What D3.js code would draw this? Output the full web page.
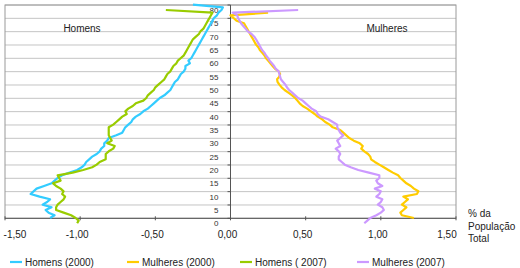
<!DOCTYPE html>
<html><head><meta charset="utf-8">
<script src="https://cdn.jsdelivr.net/npm/d3@7"></script>
<style>
body{margin:0;background:#fff;}
text{font-family:Arial,"Liberation Sans",sans-serif;}
</style></head>
<body><svg id="c" width="520" height="268"></svg>
<script>
// ---- data ----
const xTicks = [-1.5,-1.0,-0.5,0,0.5,1.0,1.5];
const xTickLabels = ["-1,50","-1,00","-0,50","0,00","0,50","1,00","1,50"];
const yTicks = [0,5,10,15,20,25,30,35,40,45,50,55,60,65,70,75,80];
const seriesNames = ["Homens (2000)","Mulheres (2000)","Homens ( 2007)","Mulheres (2007)"];
const seriesColors = ["#33CCFF","#FFCC00","#99CC00","#CC99FF"];
const sideLabels = ["Homens","Mulheres"];
const axisTitle = ["% da","População","Total"];

// ages as drawn
const startAge2000 = 2, startAge2007 = 0;
const homens2000 = [-1.20,-1.17,-1.21,-1.23,-1.19,-1.25,-1.22,-1.20,-1.27,-1.33,
 -1.31,-1.29,-1.24,-1.19,-1.17,-1.15,-1.12,-1.07,-1.02,-0.99,
 -0.97,-0.96,-0.94,-0.92,-0.89,-0.87,-0.86,-0.84,-0.84,-0.82,
 -0.81,-0.76,-0.72,-0.71,-0.70,-0.68,-0.66,-0.65,-0.63,-0.60,
 -0.58,-0.55,-0.53,-0.51,-0.49,-0.47,-0.44,-0.42,-0.40,-0.39,
 -0.38,-0.37,-0.35,-0.34,-0.33,-0.31,-0.30,-0.30,-0.27,-0.28,
 -0.26,-0.25,-0.24,-0.23,-0.22,-0.21,-0.20,-0.19,-0.18,-0.17,
 -0.16,-0.15,-0.14,-0.13,-0.12,-0.11,-0.09,-0.08,-0.06,-0.05,-0.25];
const mulheres2000 = [1.22,1.14,1.13,1.15,1.17,1.14,1.16,1.18,1.15,1.24,
 1.25,1.22,1.20,1.17,1.15,1.13,1.115,1.08,1.05,1.02,
 0.99,0.96,0.935,0.93,0.915,0.89,0.87,0.88,0.86,0.82,
 0.79,0.77,0.75,0.73,0.68,0.66,0.63,0.61,0.58,0.56,
 0.535,0.51,0.48,0.46,0.445,0.43,0.41,0.385,0.36,0.34,
 0.325,0.313,0.31,0.325,0.33,0.32,0.295,0.28,0.265,0.25,
 0.235,0.225,0.21,0.195,0.185,0.17,0.16,0.15,0.14,0.13,
 0.12,0.11,0.10,0.09,0.04,0.02,0.0,0.25];
const homens2007 = [-1.02,-1.01,-1.03,-1.06,-1.11,-1.16,-1.16,-1.15,-1.13,-1.11,
 -1.10,-1.12,-1.11,-1.13,-1.16,-1.18,-1.13,-1.14,-1.15,-1.05,
 -0.98,-0.92,-0.89,-0.87,-0.83,-0.83,-0.83,-0.81,-0.78,-0.77,
 -0.82,-0.79,-0.80,-0.81,-0.81,-0.81,-0.81,-0.78,-0.76,-0.74,
 -0.72,-0.69,-0.70,-0.68,-0.65,-0.63,-0.58,-0.56,-0.55,-0.53,
 -0.51,-0.50,-0.48,-0.46,-0.44,-0.43,-0.42,-0.40,-0.39,-0.38,
 -0.36,-0.35,-0.33,-0.31,-0.30,-0.29,-0.28,-0.27,-0.26,-0.25,
 -0.23,-0.21,-0.20,-0.18,-0.17,-0.16,-0.15,-0.14,-0.13,-0.12,-0.43];
const mulheres2007 = [0.89,0.91,0.93,0.97,1.00,1.02,1.01,0.98,1.00,1.01,
 0.97,0.99,1.00,0.96,1.01,0.98,0.97,0.99,0.99,0.92,
 0.85,0.80,0.76,0.74,0.72,0.72,0.73,0.72,0.70,0.73,
 0.72,0.71,0.73,0.75,0.73,0.72,0.71,0.71,0.68,0.65,
 0.60,0.58,0.57,0.54,0.52,0.50,0.48,0.45,0.43,0.41,
 0.39,0.375,0.365,0.35,0.335,0.33,0.325,0.32,0.30,0.29,
 0.275,0.26,0.25,0.235,0.225,0.21,0.20,0.19,0.18,0.17,
 0.158,0.14,0.115,0.10,0.085,0.07,0.06,0.05,0.045,0.015,0.45];

const seriesData = [homens2000, mulheres2000, homens2007, mulheres2007];
const seriesStart = [startAge2000, startAge2000, startAge2007, startAge2007];

// ---- layout ----
const svg = d3.select("#c");
const x = d3.scaleLinear().domain([-1.5,1.5]).range([5,456]);
const yGrid = d3.scaleLinear().domain([0,80]).range([218.3,5]);
const yData = d3.scaleLinear().domain([0,80]).range([223.3,10]);

// gridlines
svg.append("g").selectAll("line").data(yTicks.filter(t=>t>0)).join("line")
  .attr("x1",x(-1.5)).attr("x2",x(1.5))
  .attr("y1",d=>yGrid(d)).attr("y2",d=>yGrid(d))
  .attr("stroke","#c4c4c4").attr("stroke-width",1);

// plot border
svg.append("rect").attr("x",x(-1.5)).attr("y",yGrid(80))
  .attr("width",x(1.5)-x(-1.5)).attr("height",yGrid(0)-yGrid(80))
  .attr("fill","none").attr("stroke","#9a9a9a").attr("stroke-width",1);

// bottom axis line + ticks
svg.append("line").attr("x1",x(-1.5)).attr("x2",x(1.5)).attr("y1",yGrid(0)).attr("y2",yGrid(0))
  .attr("stroke","#555").attr("stroke-width",1);
svg.append("g").selectAll("line").data(xTicks).join("line")
  .attr("x1",d=>x(d)).attr("x2",d=>x(d)).attr("y1",yGrid(0)-2).attr("y2",yGrid(0)+2)
  .attr("stroke","#555");

// vertical axis at 0
svg.append("line").attr("x1",x(0)).attr("x2",x(0)).attr("y1",yGrid(80)).attr("y2",yGrid(0))
  .attr("stroke","#555").attr("stroke-width",1);
svg.append("g").selectAll("line").data(yTicks).join("line")
  .attr("x1",x(0)-3).attr("x2",x(0)).attr("y1",d=>yGrid(d)).attr("y2",d=>yGrid(d))
  .attr("stroke","#555");
svg.append("g").selectAll("text").data(yTicks).join("text")
  .attr("x",x(0)-12).attr("y",d=>yData(d)+3)
  .attr("text-anchor","end").attr("font-size","8px").attr("fill","#333")
  .text(d=>d);

// x labels
svg.append("g").selectAll("text").data(xTicks).join("text")
  .attr("x",(d,i)=> i===0 ? x(d)+10 : (i===xTicks.length-1 ? x(d)-9 : x(d)-3))
  .attr("y",238).attr("text-anchor","middle").attr("font-size","10px").attr("fill","#222")
  .text((d,i)=>xTickLabels[i]);

// series
const line = d3.line().x(d=>x(d.v)).y(d=>yData(d.a));
seriesData.forEach((arr,i)=>{
  const pts = arr.map((v,k)=>({a:seriesStart[i]+k, v}));
  svg.append("path").attr("d",line(pts)).attr("fill","none")
    .attr("stroke",seriesColors[i]).attr("stroke-width",2.2)
    .attr("stroke-linejoin","round");
});

// side labels
svg.append("text").attr("x",82).attr("y",32).attr("text-anchor","middle")
  .attr("font-size","10px").attr("fill","#222").text(sideLabels[0]);
svg.append("text").attr("x",387).attr("y",32).attr("text-anchor","middle")
  .attr("font-size","10px").attr("fill","#222").text(sideLabels[1]);

// axis title
svg.append("g").selectAll("text").data(axisTitle).join("text")
  .attr("x",468).attr("y",(d,i)=>217+i*12.5)
  .attr("font-size","10px").attr("fill","#222").text(d=>d);

// legend
const legX = [10,127,240,357];
const lg = svg.append("g").selectAll("g").data(seriesNames).join("g")
  .attr("transform",(d,i)=>`translate(${legX[i]},262)`);
lg.append("line").attr("x1",0).attr("x2",12).attr("y1",0).attr("y2",0)
  .attr("stroke",(d,i)=>seriesColors[i]).attr("stroke-width",2.2);
lg.append("text").attr("x",15).attr("y",3.5).attr("font-size","10px").attr("fill","#222")
  .text(d=>d);
</script></body></html>
